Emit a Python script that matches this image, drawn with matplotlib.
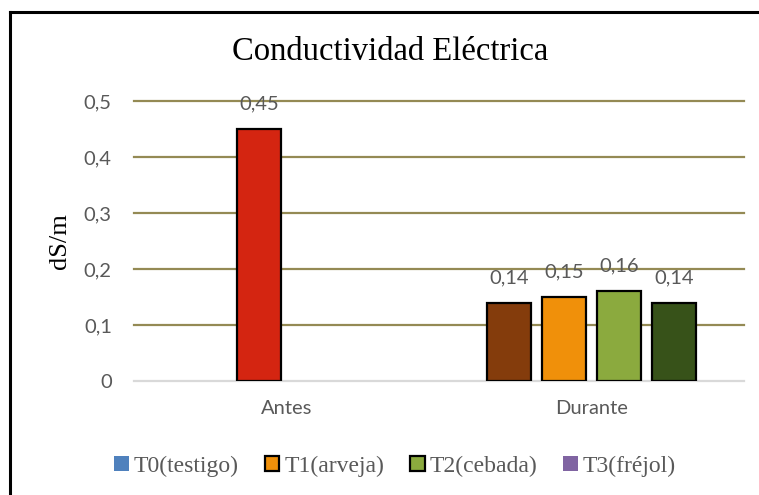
import numpy as np
import matplotlib
matplotlib.use("Agg")
import matplotlib.pyplot as plt
from matplotlib.lines import Line2D
from matplotlib.patches import Patch
from matplotlib.ticker import FuncFormatter

# data
categories = ["Antes", "Durante"]
series = ["T0(testigo)", "T1(arveja)", "T2(cebada)", "T3(fréjol)"]
values = {
    "T0(testigo)": [np.nan, 0.14],
    "T1(arveja)": [0.45, 0.15],
    "T2(cebada)": [np.nan, 0.16],
    "T3(fréjol)": [np.nan, 0.14],
}
# per-point colours (Excel "vary colours" look)
point_colors = {
    "T0(testigo)": [None, "#843C0C"],
    "T1(arveja)": ["#D42511", "#F0900A"],
    "T2(cebada)": [None, "#8BAA3E"],
    "T3(fréjol)": [None, "#375219"],
}
legend_colors = ["#4F81BD", "#F0900A", "#8BAA3E", "#8064A2"]
legend_edges = ["none", "black", "black", "none"]

serif = "Liberation Serif"
sans = "Lato"
gray = "#595959"

fig = plt.figure(figsize=(7.59, 4.95), dpi=100)
ax = fig.add_axes([134 / 759, 1 - 381 / 495, 610 / 759, 280 / 495])

x = np.arange(len(categories))
slot = 55 / 305
width = 44 / 305
for i, s in enumerate(series):
    offs = (i - 1.5) * slot
    for j, v in enumerate(values[s]):
        if np.isnan(v):
            continue
        ax.bar(x[j] + offs, v, width=width, color=point_colors[s][j],
               edgecolor="black", linewidth=1.6, zorder=3)
        ax.annotate(f"{v:.2f}".replace(".", ","), (x[j] + offs, v),
                    xytext=(0, 12), textcoords="offset points",
                    ha="center", va="bottom", fontsize=14.5,
                    family=sans, color=gray)

ax.set_xlim(-0.5, 1.5)
ax.set_ylim(0, 0.5)
ax.set_yticks([0, 0.1, 0.2, 0.3, 0.4, 0.5])
ax.yaxis.set_major_formatter(FuncFormatter(
    lambda v, p: "0" if v == 0 else f"{v:.1f}".replace(".", ",")))
ax.set_xticks(x)
ax.set_xticklabels(categories)
for lab in ax.get_xticklabels() + ax.get_yticklabels():
    lab.set_family(sans)
    lab.set_fontsize(14.5)
    lab.set_color(gray)
ax.tick_params(length=0, pad=16)
ax.tick_params(axis="x", pad=14)

for g in [0.1, 0.2, 0.3, 0.4, 0.5]:
    ax.axhline(g, color="#948A54", linewidth=1.6, zorder=1, clip_on=False)
ax.axhline(0, color="#D9D9D9", linewidth=1.6, zorder=2, clip_on=False)
for sp in ax.spines.values():
    sp.set_visible(False)

ax.set_ylabel("dS/m", family=serif, fontsize=19, labelpad=9)
fig.text(390 / 759, 1 - 52 / 495, "Conductividad Eléctrica",
         family=serif, fontsize=23.5, ha="center", va="center")

handles = [Patch(facecolor=c, edgecolor=e, linewidth=1.6)
           for c, e in zip(legend_colors, legend_edges)]
leg = fig.legend(handles, series, loc="center", bbox_to_anchor=(395 / 759, 1 - 466 / 495),
                 ncol=4, frameon=False, prop={"family": serif, "size": 17},
                 handlelength=0.62, handleheight=0.62, handletextpad=0.2,
                 columnspacing=1.1)
for t in leg.get_texts():
    t.set_color(gray)

# chart frame (left and top edges visible)
fig.add_artist(Line2D([9.5 / 759, 9.5 / 759], [0, 1 - 11.5 / 495], color="black",
                      linewidth=2.2, transform=fig.transFigure))
fig.add_artist(Line2D([9.5 / 759, 1], [1 - 11.5 / 495, 1 - 11.5 / 495], color="black",
                      linewidth=2.2, transform=fig.transFigure))

fig.savefig("out.png", dpi=100)
